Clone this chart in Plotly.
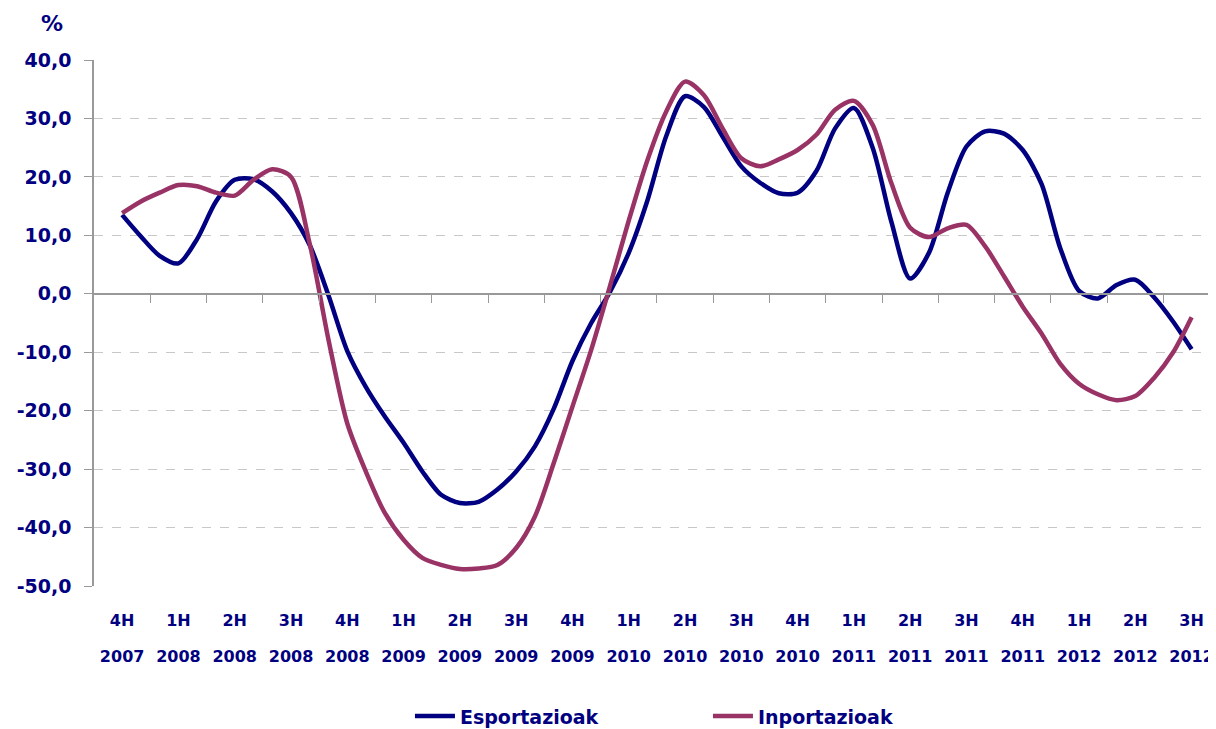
import plotly.graph_objects as go

# Monthly observations, 4H 2007 ... 3H 2012 (3 months per quarter label)
esportazioak = [13.5, 9.8, 6.5, 5.2, 9.4, 15.8, 19.5, 19.6, 17.5, 13.8,
                8.3, -0.3, -9.8, -16.0, -21.0, -25.5, -30.4, -34.4, -35.8, -35.6,
                -33.5, -30.4, -26.1, -19.7, -11.5, -5.0, 0.3, 7.0, 16.0, 27.0,
                33.8, 32.0, 26.9, 21.8, 19.0, 17.2, 17.3, 21.0, 28.3, 31.8,
                25.0, 12.3, 2.6, 7.0, 17.3, 25.2, 27.8, 27.4, 24.6, 18.8,
                7.8, 0.5, -0.8, 1.5, 2.4, -0.6, -4.7, -9.5]
inportazioak = [13.8, 15.8, 17.3, 18.6, 18.4, 17.3, 16.8, 19.5, 21.3, 20.0,
                8.5, -7.9, -22.2, -30.5, -37.5, -42.1, -45.2, -46.4, -47.1, -47.0,
                -46.4, -43.5, -38.1, -29.0, -19.3, -9.6, 1.3, 12.5, 22.9, 31.2,
                36.3, 34.0, 28.3, 23.2, 21.8, 23.0, 24.6, 27.2, 31.5, 33.0,
                28.9, 18.9, 11.3, 9.7, 11.2, 11.8, 8.1, 3.0, -2.2, -6.8,
                -12.0, -15.4, -17.2, -18.2, -17.5, -14.4, -10.1, -4.0]

months = list(range(len(esportazioak)))

quarter_labels = ["4H", "1H", "2H", "3H", "4H", "1H", "2H", "3H", "4H", "1H",
                  "2H", "3H", "4H", "1H", "2H", "3H", "4H", "1H", "2H", "3H"]
year_labels = ["2007", "2008", "2008", "2008", "2008", "2009", "2009", "2009", "2009", "2010",
               "2010", "2010", "2010", "2011", "2011", "2011", "2011", "2012", "2012", "2012"]

y_ticks = [-50, -40, -30, -20, -10, 0, 10, 20, 30, 40]
y_tick_labels = ["-50,0", "-40,0", "-30,0", "-20,0", "-10,0", "0,0", "10,0", "20,0", "30,0", "40,0"]

NAVY = "#000080"
PLUM = "#993366"
FONT = "Verdana, DejaVu Sans, sans-serif"
GRAY = "#999999"

cat_pos = [3 * i for i in range(len(quarter_labels))]
boundaries = [3 * i + 1.5 for i in range(len(quarter_labels))]

fig = go.Figure()
fig.add_trace(go.Scatter(x=months, y=esportazioak, name="Esportazioak", mode="lines",
                         line=dict(color=NAVY, width=4.5, shape="spline", smoothing=0.8)))
fig.add_trace(go.Scatter(x=months, y=inportazioak, name="Inportazioak", mode="lines",
                         line=dict(color=PLUM, width=4.5, shape="spline", smoothing=0.8)))
# invisible traces carrying the zero-line axis and the year-label axis
fig.add_trace(go.Scatter(x=[months[0]], y=[0], xaxis="x2", mode="markers",
                         marker=dict(opacity=0), showlegend=False, hoverinfo="skip"))
fig.add_trace(go.Scatter(x=[months[0]], y=[0], xaxis="x3", mode="markers",
                         marker=dict(opacity=0), showlegend=False, hoverinfo="skip"))

xr = [-1.5, 58.3]
tickfont_x = dict(family=FONT, size=16, color=NAVY, weight="bold")
fig.update_layout(
    width=1208, height=721,
    margin=dict(l=85.5, r=0, t=52, b=143, autoexpand=False),
    paper_bgcolor="white", plot_bgcolor="white",
    font=dict(family=FONT, color=NAVY),
    showlegend=True,
    legend=dict(orientation="h", x=0.2816, xanchor="left", y=-0.2115, yanchor="top",
                font=dict(family=FONT, size=19, color=NAVY, weight="bold"),
                entrywidth=243, itemwidth=40, traceorder="normal"),
    xaxis=dict(range=xr, tickmode="array", tickvals=cat_pos, ticktext=quarter_labels,
               showline=False, showgrid=False, zeroline=False, ticks="",
               ticklabelstandoff=23, automargin=False, ticklabeloverflow="allow",
               tickfont=tickfont_x),
    xaxis3=dict(range=xr, overlaying="x", anchor="free", position=0, side="bottom",
                tickmode="array", tickvals=cat_pos, ticktext=year_labels,
                showline=False, showgrid=False, zeroline=False, ticks="",
                ticklabelstandoff=59, automargin=False, ticklabeloverflow="allow",
                tickfont=tickfont_x),
    xaxis2=dict(range=xr, overlaying="x", anchor="free", position=50 / 90, side="bottom",
                tickmode="array", tickvals=boundaries, showticklabels=False,
                ticks="outside", ticklen=8, tickcolor=GRAY, tickwidth=1.3,
                showline=True, linecolor=GRAY, linewidth=1.5,
                showgrid=False, zeroline=False, automargin=False),
    yaxis=dict(range=[-50, 40], tickmode="array", tickvals=y_ticks, ticktext=y_tick_labels,
               showline=True, linecolor=GRAY, linewidth=1.5,
               ticks="outside", ticklen=8, tickcolor=GRAY, tickwidth=1.3,
               showgrid=True, gridcolor="#C8C8C8", griddash="dash", gridwidth=1,
               zeroline=False, ticklabelstandoff=9, automargin=False,
               tickfont=dict(family=FONT, size=19, color=NAVY, weight="bold")),
    annotations=[dict(text="<b>%</b>", xref="paper", yref="paper",
                      x=-0.0486, y=1.0966, showarrow=False,
                      font=dict(family=FONT, size=22, color=NAVY))],
)

fig.write_html("out.html")
